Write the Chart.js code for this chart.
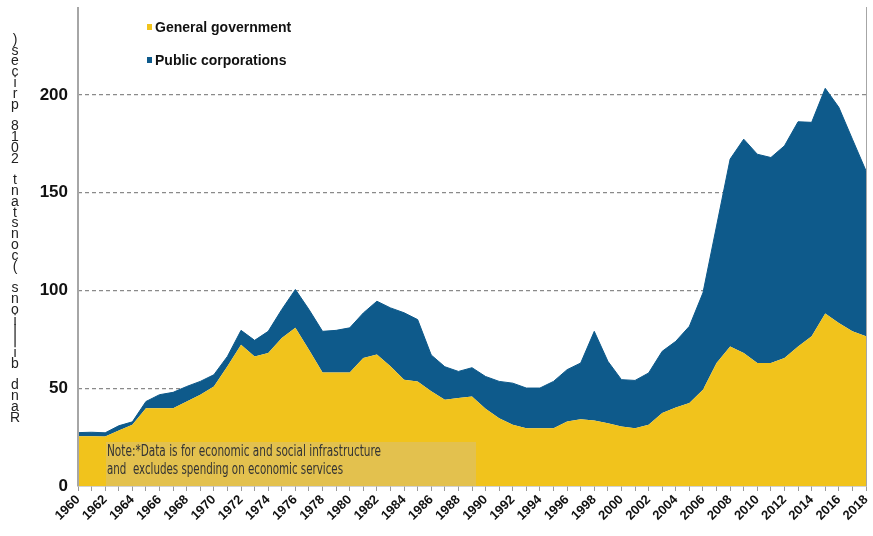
<!DOCTYPE html>
<html>
<head>
<meta charset="utf-8">
<script src="https://cdn.jsdelivr.net/npm/chart.js@4/dist/chart.umd.min.js"></script>
<style>
  html, body { margin: 0; padding: 0; background: #fff; }
  #wrap { width: 873px; height: 536px; }
</style>
</head>
<body>
<div id="wrap"><canvas id="myChart" width="873" height="536"></canvas></div>
<script>
// years on the x axis
const years = [
  1960, 1961, 1962, 1963, 1964, 1965, 1966, 1967, 1968, 1969,
  1970, 1971, 1972, 1973, 1974, 1975, 1976, 1977, 1978, 1979,
  1980, 1981, 1982, 1983, 1984, 1985, 1986, 1987, 1988, 1989,
  1990, 1991, 1992, 1993, 1994, 1995, 1996, 1997, 1998, 1999,
  2000, 2001, 2002, 2003, 2004, 2005, 2006, 2007, 2008, 2009,
  2010, 2011, 2012, 2013, 2014, 2015, 2016, 2017, 2018
];

// Rand billions, general government
const generalGov = [
  25.5, 25.5, 25.3, 28.4, 31.3, 39.8, 39.8, 39.8, 43.2, 46.7,
  50.9, 61.2, 72.3, 66.3, 68.0, 75.7, 80.9, 69.7, 58.1, 58.1,
  58.1, 65.5, 67.2, 61.2, 54.4, 53.5, 48.4, 44.1, 45.0, 45.8,
  39.5, 34.7, 31.3, 29.6, 29.6, 29.6, 33.0, 34.2, 33.5, 32.1,
  30.4, 29.6, 31.3, 37.3, 40.2, 42.4, 49.2, 62.9, 71.4, 68.0,
  62.9, 62.9, 65.5, 71.4, 76.6, 88.2, 83.4, 79.1, 76.6
];

// Rand billions, public corporations (stacked on top)
const publicCorp = [
  1.8, 2.0, 1.9, 2.4, 1.5, 3.4, 6.9, 8.1, 7.7, 6.8,
  6.0, 5.1, 7.3, 8.2, 11.1, 14.6, 19.6, 20.6, 21.0, 21.5,
  22.8, 23.0, 27.3, 29.9, 34.2, 31.6, 18.6, 16.9, 13.6, 14.7,
  16.5, 18.8, 21.3, 20.5, 20.5, 23.9, 26.5, 28.7, 45.6, 31.7,
  24.0, 24.4, 26.5, 31.6, 33.8, 39.3, 49.6, 70.1, 95.8, 109.4,
  106.8, 105.1, 108.5, 114.9, 109.4, 115.2, 110.3, 98.3, 84.6
];

const yTicks = [0, 50, 100, 150, 200];
const seriesNames = ["General government", "Public corporations"];
const noteLines = [
  "Note:*Data is for economic and social infrastructure",
  "and  excludes spending on economic services"
];
const yTitle = "Rand billions (constant 2018 prices)";

const yellow = '#F1C31C';
const blue = '#0E5A8B';

const extras = {
  id: 'extras',
  afterDatasetsDraw(chart) {
    const ctx = chart.ctx;
    const a = chart.chartArea;
    ctx.save();
    // note box
    ctx.fillStyle = '#E3C14E';
    ctx.fillRect(106, 442, 370, a.bottom - 442);
    ctx.fillStyle = '#333';
    ctx.font = '16px "Liberation Sans Narrow", "DejaVu Sans Condensed", sans-serif';
    ctx.textBaseline = 'alphabetic';
    ctx.fillText(noteLines[0], 107, 456, 274);
    ctx.fillText(noteLines[1], 107, 474, 236);

    // legend
    ctx.font = 'bold 14px "Liberation Sans", Arial, sans-serif';
    ctx.fillStyle = yellow;
    ctx.fillRect(147, 24, 5, 6);
    ctx.fillStyle = blue;
    ctx.fillRect(147, 57, 5, 6);
    ctx.fillStyle = '#111';
    ctx.fillText(seriesNames[0], 155, 32);
    ctx.fillText(seriesNames[1], 155, 65);

    // axis lines
    ctx.strokeStyle = '#a6a6a6';
    ctx.lineWidth = 2;
    ctx.beginPath();
    ctx.moveTo(a.left, a.top);
    ctx.lineTo(a.left, a.bottom);
    ctx.stroke();
    ctx.lineWidth = 1;
    ctx.beginPath();
    ctx.moveTo(a.right + 0.5, a.top);
    ctx.lineTo(a.right + 0.5, a.bottom);
    ctx.stroke();

    // y title, characters stacked bottom to top
    ctx.fillStyle = '#222';
    ctx.font = '14px "Liberation Sans", Arial, sans-serif';
    ctx.textAlign = 'center';
    ctx.textBaseline = 'middle';
    const chars = yTitle.split('');
    const yBottom = 418, yTop = 40;
    const step = (yBottom - yTop) / (chars.length - 1);
    chars.forEach((c, i) => {
      ctx.fillText(c, 15, yBottom - i * step);
    });
    ctx.restore();
  }
};

const data = {
  labels: years,
  datasets: [
    {
      label: seriesNames[0],
      data: generalGov,
      backgroundColor: yellow,
      borderColor: yellow,
      borderWidth: 0,
      fill: 'origin',
      pointRadius: 0,
      tension: 0
    },
    {
      label: seriesNames[1],
      data: publicCorp,
      backgroundColor: blue,
      borderColor: blue,
      borderWidth: 1,
      fill: '-1',
      pointRadius: 0,
      tension: 0
    }
  ]
};

const config = {
  type: 'line',
  data: data,
  options: {
    responsive: false,
    animation: false,
    layout: { padding: { top: 7, right: 7, left: 0, bottom: 0 } },
    plugins: {
      legend: { display: false },
      tooltip: { enabled: false }
    },
    scales: {
      x: {
        offset: false,
        afterFit(s) {
          s.height = 50;
          s.paddingLeft = 0;
          s.paddingRight = 0;
        },
        grid: {
          display: true,
          drawOnChartArea: false,
          drawTicks: true,
          tickLength: 5,
          color: '#9a9a9a'
        },
        border: { display: true, color: '#a6a6a6', width: 1.5 },
        ticks: {
          autoSkip: false,
          maxRotation: 45,
          minRotation: 45,
          padding: 1,
          color: '#111',
          font: { family: '"Liberation Sans", Arial, sans-serif', size: 13, weight: 'bold' },
          callback: function (v, i) {
            const y = years[i];
            return y % 2 === 0 ? String(y) : '';
          }
        }
      },
      y: {
        stacked: true,
        min: 0,
        max: 245,
        afterFit(s) {
          s.width = 78;
          s.paddingTop = 0;
          s.paddingBottom = 0;
        },
        afterBuildTicks(s) { s.ticks = yTicks.map(v => ({ value: v })); },
        grid: {
          drawTicks: false,
          lineWidth: 1.2,
          color: ctx => (ctx.tick && ctx.tick.value === 0) ? 'rgba(0,0,0,0)' : '#8a8a8a'
        },
        border: { display: false, dash: [4, 3] },
        ticks: {
          padding: 10,
          color: '#111',
          font: { family: '"Liberation Sans", Arial, sans-serif', size: 17, weight: 'bold' }
        }
      }
    }
  },
  plugins: [extras]
};

var myChart = new Chart(document.getElementById('myChart'), config);
</script>
</body>
</html>
